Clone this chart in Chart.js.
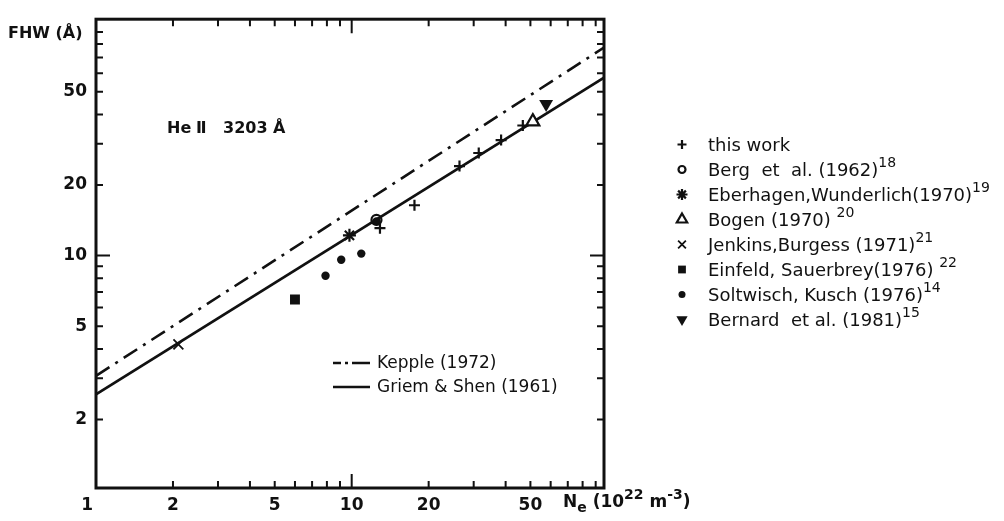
<!DOCTYPE html>
<html>
<head>
<meta charset="utf-8">
<title>FHW of He II 3203 Å versus electron density</title>
<script src="https://cdn.jsdelivr.net/npm/chart.js@4.4.1/dist/chart.umd.min.js"></script>
<style>
  html, body { margin: 0; padding: 0; background: #fff; }
  #wrap { width: 1004px; height: 521px; }
</style>
</head>
<body>
<div id="wrap"><canvas id="chart" width="1004" height="521"></canvas></div>
<script>
// N_e in 1e22 m^-3, full half width in Å
const thisWorkX = [12.9, 17.6, 26.4, 31.4, 38.4, 46.7]
const thisWorkY = [13.1, 16.4, 24.1, 27.4, 31.1, 35.9]
const bergX = [12.5]
const bergY = [14.2]
const eberhagenX = [9.8]
const eberhagenY = [12.2]
const bogenX = [51.1]
const bogenY = [37.3]
const jenkinsX = [2.1]
const jenkinsY = [4.18]
const einfeldX = [6.0]
const einfeldY = [6.5]
const soltwischX = [7.9, 9.1, 10.9, 12.5]
const soltwischY = [8.2, 9.6, 10.2, 14.0]
const bernardX = [57.6]
const bernardY = [44.3]

// theory, straight lines on log-log paper: end points
const keppleX = [1, 97]
const keppleY = [3.07, 77.2]
const griemX = [1, 97]
const griemY = [2.56, 57.4]

const seriesNames = [
    "this work",
    "Berg  et  al. (1962)",
    "Eberhagen,Wunderlich(1970)",
    "Bogen (1970) ",
    "Jenkins,Burgess (1971)",
    "Einfeld, Sauerbrey(1976) ",
    "Soltwisch, Kusch (1976)",
    "Bernard  et al. (1981)"
]
const seriesRefs = ["", "18", "19", "20", "21", "22", "14", "15"]

const xTickValues = [1, 2, 3, 4, 5, 6, 7, 8, 9, 10, 20, 30, 40, 50, 60, 70, 80, 90]
const yTickValues = [2, 3, 4, 5, 6, 7, 8, 9, 10, 20, 30, 40, 50, 60, 70, 80, 90]
const xTickLabels = [1, 2, 5, 10, 20, 50]
const yTickLabels = [2, 5, 10, 20, 50]

const ink = "#111"
const fam = '"DejaVu Sans", sans-serif'

function pts(xs, ys) {
    return xs.map((x, i) => ({ x: x, y: ys[i] }))
}

const marks = [
    { xs: thisWorkX, ys: thisWorkY, style: "cross", r: 5.5, lr: 4.5, bg: ink, bw: 2.2 },
    { xs: bergX, ys: bergY, style: "circle", r: 5, lr: 3.5, bg: "rgba(0,0,0,0)", bw: 2.2 },
    { xs: eberhagenX, ys: eberhagenY, style: "star", r: 6.5, lr: 5.5, bg: ink, bw: 2.2 },
    { xs: bogenX, ys: bogenY, style: "triangle", r: 7.5, lr: 6, bg: "#fff", bw: 2.2 },
    { xs: jenkinsX, ys: jenkinsY, style: "crossRot", r: 7, lr: 5.5, bg: ink, bw: 1.8 },
    { xs: einfeldX, ys: einfeldY, style: "rect", r: 7, lr: 5.5, bg: ink, bw: 0 },
    { xs: soltwischX, ys: soltwischY, style: "circle", r: 4.2, lr: 3.5, bg: ink, bw: 0 },
    { xs: bernardX, ys: bernardY, style: "triangle", r: 8, lr: 6.5, bg: ink, bw: 0, rot: 180 }
]

const datasets = marks.map((m, i) => ({
    label: seriesNames[i],
    data: pts(m.xs, m.ys),
    pointStyle: m.style,
    pointRadius: m.r,
    pointRotation: m.rot || 0,
    pointBackgroundColor: m.bg,
    pointBorderColor: ink,
    pointBorderWidth: m.bw,
    legendRadius: m.lr,
    order: 0
}))

datasets.push({
    label: "Kepple (1972)",
    data: pts(keppleX, keppleY),
    showLine: true,
    borderColor: ink,
    borderWidth: 2.6,
    borderDash: [16, 7, 3, 7],
    pointRadius: 0,
    order: 1
})
datasets.push({
    label: "Griem & Shen (1961)",
    data: pts(griemX, griemY),
    showLine: true,
    borderColor: ink,
    borderWidth: 2.6,
    pointRadius: 0,
    order: 1
})

function rich(ctx, parts, x, y, size, weight) {
    let cx = x
    parts.forEach(p => {
        const s = p.sup || p.sub ? Math.round(size * 0.8) : size
        ctx.font = weight + " " + s + "px " + fam
        const dy = p.sup ? -size * 0.48 : p.sub ? size * 0.32 : 0
        ctx.fillText(p.t, cx, y + dy)
        cx += ctx.measureText(p.t).width
    })
}

const paper = {
    id: "paper",
    beforeDraw(chart) {
        const ctx = chart.ctx
        ctx.save()
        ctx.fillStyle = "#fff"
        ctx.fillRect(0, 0, chart.width, chart.height)
        ctx.restore()
    },
    afterDatasetsDraw(chart) {
        const { ctx, chartArea: a, scales } = chart
        ctx.save()
        ctx.strokeStyle = ink
        ctx.lineWidth = 3
        ctx.strokeRect(a.left, a.top, a.right - a.left, a.bottom - a.top)
        ctx.lineWidth = 2
        ctx.beginPath()
        xTickValues.forEach(v => {
            const px = scales.x.getPixelForValue(v)
            if (px < a.left + 3 || px > a.right - 3) return
            const len = v === 10 ? 14 : 7
            ctx.moveTo(px, a.bottom); ctx.lineTo(px, a.bottom - len)
            ctx.moveTo(px, a.top); ctx.lineTo(px, a.top + len)
        })
        yTickValues.forEach(v => {
            const py = scales.y.getPixelForValue(v)
            if (py < a.top + 3 || py > a.bottom - 3) return
            const len = v === 10 ? 14 : 7
            ctx.moveTo(a.left, py); ctx.lineTo(a.left + len, py)
            ctx.moveTo(a.right, py); ctx.lineTo(a.right - len, py)
        })
        ctx.stroke()
        ctx.restore()
    },
    afterDraw(chart) {
        const ctx = chart.ctx
        ctx.save()
        ctx.fillStyle = ink
        ctx.strokeStyle = ink
        ctx.textBaseline = "alphabetic"
        ctx.textAlign = "left"

        // axis titles
        ctx.font = "bold 16px " + fam
        ctx.fillText("FHW (Å)", 8, 38)
        rich(ctx, [{ t: "N" }, { t: "e", sub: true }, { t: " (10" }, { t: "22", sup: true },
                   { t: " m" }, { t: "-3", sup: true }, { t: ")" }], 563, 507, 17, "bold")

        // line label
        ctx.font = "bold 16px " + fam
        ctx.fillText("He", 167, 133)
        ctx.fillText("Ⅱ", 196, 133)
        ctx.fillText("3203 Å", 223, 133)

        // theory legend inside the frame
        ctx.lineWidth = 2.4
        ctx.setLineDash([8, 4, 3, 4, 30])
        ctx.beginPath(); ctx.moveTo(333, 363); ctx.lineTo(370, 363); ctx.stroke()
        ctx.setLineDash([])
        ctx.beginPath(); ctx.moveTo(333, 387); ctx.lineTo(370, 387); ctx.stroke()
        ctx.font = "17px " + fam
        ctx.fillText(datasets[marks.length].label, 377, 368)
        ctx.fillText(datasets[marks.length + 1].label, 377, 392)

        // data legend on the right
        marks.forEach((m, i) => {
            const base = 151 + i * 25
            const ds = datasets[i]
            ctx.fillStyle = ds.pointBackgroundColor
            ctx.strokeStyle = ink
            ctx.lineWidth = Math.max(ds.pointBorderWidth, 1.6)
            Chart.helpers.drawPoint(ctx, {
                pointStyle: ds.pointStyle,
                radius: ds.legendRadius,
                rotation: ds.pointRotation,
                borderWidth: ds.pointBorderWidth
            }, 682, base - 6.5)
            ctx.fillStyle = ink
            rich(ctx, [{ t: seriesNames[i] }, { t: seriesRefs[i], sup: true }], 708, base, 18, "normal")
        })
        ctx.restore()
    }
}

new Chart(document.getElementById("chart"), {
    type: "scatter",
    data: { datasets: datasets },
    options: {
        responsive: false,
        animation: false,
        events: [],
        layout: { padding: { left: 0, top: 8, right: 400, bottom: 0 } },
        plugins: {
            legend: { display: false },
            tooltip: { enabled: false }
        },
        scales: {
            x: {
                type: "logarithmic",
                min: 1,
                max: 97,
                afterFit: s => { s.height = 33 },
                afterBuildTicks: s => { s.ticks = xTickValues.map(v => ({ value: v })) },
                grid: { display: true, drawOnChartArea: false, drawTicks: false },
                border: { display: false },
                ticks: {
                    autoSkip: false,
                    maxRotation: 0,
                    padding: 7,
                    color: ink,
                    font: { family: fam, size: 17, weight: "bold" },
                    // the "1" sits left of the corner in the original
                    callback: v => !xTickLabels.includes(v) ? "" : v === 1 ? "1   " : String(v)
                }
            },
            y: {
                type: "logarithmic",
                min: 1.02,
                max: 102,
                afterFit: s => { s.width = 96 },
                afterBuildTicks: s => { s.ticks = yTickValues.map(v => ({ value: v })) },
                grid: { display: true, drawOnChartArea: false, drawTicks: false },
                border: { display: false },
                ticks: {
                    autoSkip: false,
                    padding: 9,
                    color: ink,
                    font: { family: fam, size: 17, weight: "bold" },
                    callback: v => yTickLabels.includes(v) ? String(v) : ""
                }
            }
        }
    },
    plugins: [paper]
})
</script>
</body>
</html>
